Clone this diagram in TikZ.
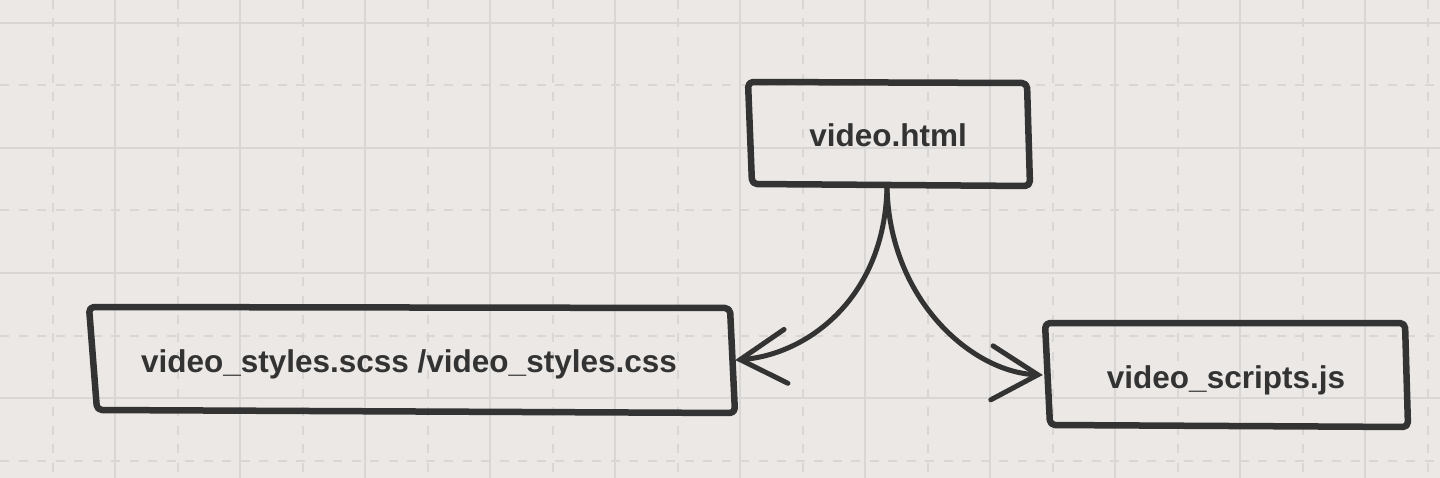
\documentclass[tikz,border=0pt]{standalone}
\usepackage{fontspec}
\setmainfont{Liberation Sans}
\usetikzlibrary{arrows.meta}
\definecolor{bgc}{RGB}{235,232,229}
\definecolor{gridc}{RGB}{217,215,214}
\definecolor{ink}{RGB}{51,51,51}
\tikzset{
  gridsolid/.style={draw=gridc, line width=2pt},
  griddash/.style={draw=gridc, line width=2pt, dash pattern=on 9pt off 9.5pt},
  boxline/.style={draw=ink, line width=6.5pt, rounded corners=5pt, line join=round},
  hold/.style={draw=none, rectangle, inner sep=0pt},
  lbl/.style={anchor=base, inner sep=0pt, text=ink, font=\fontsize{31.5}{36}\selectfont\bfseries},
  conn/.style={draw=ink, line width=5pt, line cap=round,
    -{Straight Barb[length=46pt, width=54pt, line cap=round]}},
}
\begin{document}
\begin{tikzpicture}[x=1pt, y=-1pt]
\useasboundingbox (0,0) rectangle (1440,478);
\fill[bgc] (0,0) rectangle (1440,478);
% grid
\foreach \gx in {52.5,177.5,...,1440} \draw[griddash] (\gx,0) -- (\gx,478);
\foreach \gy in {85.5,210.5,335.5,460.5} \draw[griddash] (0,\gy) -- (1440,\gy);
\foreach \gx in {115,240,...,1440} \draw[gridsolid] (\gx,0) -- (\gx,478);
\foreach \gy in {23,148,273,398} \draw[gridsolid] (0,\gy) -- (1440,\gy);
% box holders
\node[hold, minimum width=282pt, minimum height=104pt] (A) at (887,134) {};
\node[hold, minimum width=646pt, minimum height=106pt] (B) at (412,360) {};
\node[hold, minimum width=365pt, minimum height=104pt] (C) at (1225.5,375) {};
% outlines
\draw[boxline] (748,82) -- (1027,83) -- (1030,186) -- (752,184) -- cycle;
\draw[boxline] (89,307) -- (730,308) -- (735,413) -- (97,410) -- cycle;
\draw[boxline] (1045,323) -- (1405,323) -- (1408,427) -- (1050,425) -- cycle;
% labels
\node[lbl] (At) at (888,147) {video.html};
\node[lbl] (Bt) at (409,372) {video\_styles.scss /video\_styles.css};
\node[lbl] (Ct) at (1226,388) {video\_scripts.js};
% connectors
\draw[conn] (A.south) .. controls (885,300) and (805,355) .. (B.east);
\draw[conn] (A.south) .. controls (889,300) and (972,372) .. (C.west);
\end{tikzpicture}
\end{document}
